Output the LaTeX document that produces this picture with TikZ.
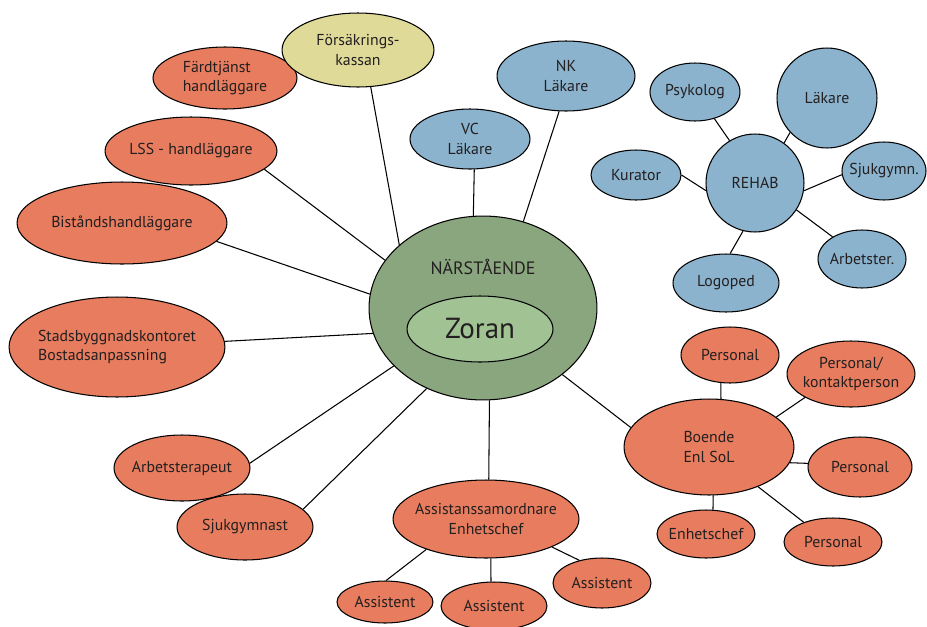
\documentclass[tikz,border=0pt]{standalone}
\usepackage{fontspec}
\setmainfont{PT Sans}
\usetikzlibrary{shapes.geometric}
\definecolor{orng}{HTML}{E77D5E}
\definecolor{blu}{HTML}{8BB3CD}
\definecolor{ylw}{HTML}{DFDA98}
\definecolor{dkgrn}{HTML}{8AA67E}
\definecolor{ltgrn}{HTML}{A1C394}
\definecolor{ink}{HTML}{231F20}

\begin{document}
\begin{tikzpicture}[x=0.02cm, y=-0.02cm, line width=0.6pt,
    bub/.style = {ellipse, draw, inner sep=0pt, fill=#1},
    sz/.style 2 args = {minimum width=#1*0.04cm, minimum height=#2*0.04cm},
    txt/.style = {font=\fontsize{9}{11}\selectfont, align=center, text=ink}]

    \useasboundingbox (0,0) rectangle (927,626);

    % Centre
    \node[bub=dkgrn, sz={114}{92}] (nar) at (483,308) {};
    \node[txt, font=\fontsize{10.2}{12}\selectfont] (nartxt) at (483,267) {NÄRSTÅENDE};
    \node[bub=ltgrn, sz={73}{33}, label={[txt, font=\fontsize{16.5}{19}\selectfont]center:Zoran}] (zoran) at (480,329) {};

    % Left side
    \node[bub=orng, sz={72}{31}, label={[txt, align=left]center:{Färdtjänst\\handläggare}}] (fard) at (225,78) {};
    \node[bub=ylw, sz={76}{37}, label={[txt]center:{Försäkrings-\\kassan}}] (fk) at (358,50) {};
    \node[bub=orng, sz={86}{34}, label={[txt]center:{LSS - handläggare}}] (lss) at (191,151) {};
    \node[bub=orng, sz={105}{41}, label={[txt]center:{Biståndshandläggare}}] (bist) at (122,223) {};
    \node[bub=orng, sz={108}{50}, label={[txt, align=left]center:{Stadsbyggnadskontoret\\Bostadsanpassning}}] (stad) at (117,347) {};
    \node[bub=orng, sz={68}{33}, label={[txt]center:{Arbetsterapeut}}] (arbt) at (182,468) {};
    \node[bub=orng, sz={68}{33}, label={[txt]center:{Sjukgymnast}}] (sjg) at (245,527) {};

    % Bottom
    \node[bub=orng, sz={93}{39}, label={[txt]center:{Assistanssamordnare\\Enhetschef}}] (asam) at (486,519) {};
    \node[bub=orng, sz={48}{21}, label={[txt]center:{Assistent}}] (as1) at (385,602) {};
    \node[bub=orng, sz={53}{24}, label={[txt]center:{Assistent}}] (as2) at (494,606) {};
    \node[bub=orng, sz={49}{25}, label={[txt]center:{Assistent}}] (as3) at (602,583) {};

    % Boende
    \node[bub=orng, sz={85}{48}, label={[txt, align=left]center:{Boende\\Enl SoL}}] (boen) at (709,447) {};
    \node[bub=orng, sz={49}{28}, label={[txt]center:{Personal}}] (pers1) at (730,355) {};
    \node[bub=orng, sz={64}{33}, label={[txt]center:{Personal/\\kontaktperson}}] (pers2) at (851,374) {};
    \node[bub=orng, sz={52}{30}, label={[txt]center:{Personal}}] (pers3) at (860,467) {};
    \node[bub=orng, sz={49}{24}, label={[txt]center:{Enhetschef}}] (ehc) at (706,534) {};
    \node[bub=orng, sz={49}{24}, label={[txt]center:{Personal}}] (pers4) at (833,542) {};

    % Top
    \node[bub=blu, sz={60}{30}, label={[txt]center:{VC\\Läkare}}] (vc) at (470,139) {};
    \node[bub=blu, sz={69}{35}, label={[txt]center:{NK\\Läkare}}] (nk) at (566,76) {};

    % Rehab
    \node[bub=blu, sz={49}{49}, label={[txt]center:{REHAB}}] (reh) at (755,183) {};
    \node[bub=blu, sz={45}{29}, label={[txt]center:{Psykolog}}] (psy) at (695,92) {};
    \node[bub=blu, sz={50}{50}, label={[txt]center:{Läkare}}] (lak) at (827,98) {};
    \node[bub=blu, sz={45}{25}, label={[txt]center:{Kurator}}] (kur) at (636,175) {};
    \node[bub=blu, sz={42}{29}, label={[txt]center:{Sjukgymn.}}] (sjr) at (884,171) {};
    \node[bub=blu, sz={44}{29}, label={[txt]center:{Arbetster.}}] (art) at (862,259) {};
    \node[bub=blu, sz={53}{29}, label={[txt]center:{Logoped}}] (logo) at (726,283) {};

    % Edges
    \draw (nar.143) -- (fk.289);
    \draw (nar.154) -- (lss.346);
    \draw (nar.173) -- (bist.349);
    \draw (nar.193) -- (stad.3);
    \draw (nar.213) -- (arbt.4);
    \draw (nar.235) -- (sjg.17);
    \draw (nar.274) -- (asam.86);
    \draw (nar.320) -- (boen.166);
    \draw (nar.96) -- (vc.278);
    \draw (nar.65) -- (nk.259);

    \draw (reh.121) -- (psy.306);
    \draw (reh.54) -- (lak.223);
    \draw (reh.189) -- (kur.0);
    \draw (reh.351) -- (sjr.185);
    \draw (reh.327) -- (art.143);
    \draw (reh.256) -- (logo.82);

    \draw (boen.76) -- (pers1.252);
    \draw (boen.24) -- (pers2.207);
    \draw (boen.349) -- (pers3.176);
    \draw (boen.275) -- (ehc.74);
    \draw (boen.321) -- (pers4.146);

    \draw (asam.207) -- (as1.87);
    \draw (asam.277) -- (as2.97);
    \draw (asam.337) -- (as3.135);

\end{tikzpicture}
\end{document}
